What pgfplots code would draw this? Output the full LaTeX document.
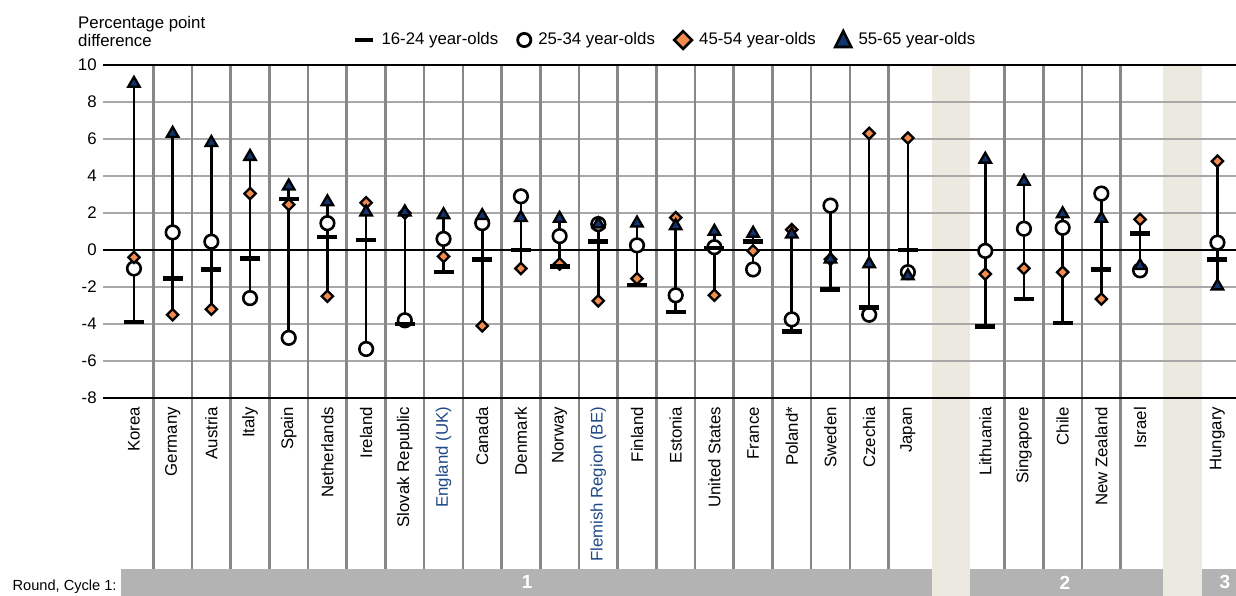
\documentclass[border=0pt]{standalone}
\usepackage{fontspec}
\setmainfont{Liberation Sans}
\usepackage{pgfplots}
\usepackage{pgfplotstable}
\pgfplotsset{compat=1.18}
\usetikzlibrary{calc}

\definecolor{oecdorange}{RGB}{243,139,78}
\definecolor{oecdnavy}{RGB}{18,52,110}
\definecolor{labblue}{RGB}{31,73,135}
\definecolor{gridh}{RGB}{168,168,168}
\definecolor{gridv}{RGB}{135,135,135}
\definecolor{beige}{RGB}{236,234,224}
\definecolor{band}{RGB}{179,179,179}

\newcommand{\fs}{\fontsize{8.4}{10}\selectfont}

% x = slot, a = 16-24, b = 25-34, c = 45-54, d = 55-65 year-olds
\pgfplotstableread{
x   a      b      c      d
0  -3.90  -1.00  -0.40   9.00
1  -1.55   0.95  -3.50   6.30
2  -1.05   0.45  -3.20   5.80
3  -0.45  -2.60   3.05   5.05
4   2.75  -4.75   2.45   3.45
5   0.70   1.45  -2.50   2.60
6   0.55  -5.35   2.55   2.05
7  -4.00  -3.80   2.00   2.05
8  -1.20   0.60  -0.35   1.90
9  -0.50   1.45  -4.10   1.85
10  0.00   2.90  -1.00   1.75
11 -0.90   0.75  -0.75   1.70
12  0.45   1.40  -2.75   1.40
13 -1.90   0.25  -1.55   1.45
14 -3.35  -2.45   1.75   1.30
15  0.10   0.15  -2.45   1.00
16  0.45  -1.05  -0.05   0.90
17 -4.40  -3.75   1.10   0.85
18 -2.15   2.40  -0.50  -0.50
19 -3.10  -3.50   6.30  -0.75
20  0.00  -1.20   6.05  -1.40
22 -4.15  -0.05  -1.30   4.90
23 -2.65   1.15  -1.00   3.70
24 -3.95   1.20  -1.20   1.95
25 -1.05   3.05  -2.65   1.70
26  0.90  -1.10   1.65  -0.85
28 -0.50   0.40   4.80  -1.95
}\agegaps

\begin{document}
\begin{tikzpicture}
\begin{axis}[
  name=ax,
  scale only axis, width=566.5pt, height=166.5pt,
  xmin=-0.8, xmax=28.48, ymin=-8, ymax=10,
  clip=false,
  axis line style={draw=none},
  major tick length=0pt,
  ytick={-8,-6,...,10},
  xtick={0,...,20,22,23,24,25,26,28},
  xticklabels={Korea,Germany,Austria,Italy,Spain,Netherlands,Ireland,Slovak Republic,
    {\color{labblue}England (UK)},Canada,Denmark,Norway,{\color{labblue}Flemish Region (BE)},
    Finland,Estonia,United States,France,Poland*,Sweden,Czechia,Japan,
    Lithuania,Singapore,Chile,New Zealand,Israel,Hungary},
  tick label style={font=\fs},
  /pgf/number format/assume math mode=true,
  xticklabel style={rotate=90, anchor=east, inner sep=0pt},
  xticklabel shift=4.3pt,
  yticklabel style={inner sep=0pt},
  yticklabel shift=3pt,
  legend columns=4,
  legend cell align=left,
  legend style={at={(0.497,1.075)}, anchor=center, draw=none, fill=none,
    font=\fs, inner sep=0pt,
    /tikz/every even column/.append style={column sep=7pt},
    /tikz/every odd column/.append style={column sep=1pt}},
]
% round gaps and bottom band
\fill[beige] (axis cs:20.62,10) rectangle (axis cs:21.60,-18.8);
\fill[beige] (axis cs:26.59,10) rectangle (axis cs:27.60,-18.8);
\fill[band] (axis cs:-0.34,-17.24) rectangle (axis cs:20.62,-18.8);
\fill[band] (axis cs:21.60,-17.24) rectangle (axis cs:26.59,-18.8);
\fill[band] (axis cs:27.60,-17.24) rectangle (axis cs:28.48,-18.8);
\node[font=\bfseries\fontsize{9.5}{10}\selectfont, text=white] at (axis cs:10.16,-17.97) {1};
\node[font=\bfseries\fontsize{9.5}{10}\selectfont, text=white] at (axis cs:24.06,-17.97) {2};
\node[font=\bfseries\fontsize{9.5}{10}\selectfont, text=white] at (axis cs:28.19,-17.97) {3};
\node[font=\fontsize{7.3}{9}\selectfont, anchor=east, inner sep=0pt] at (axis cs:-0.44,-18.22) {Round, Cycle 1:};
\node[font=\fs, anchor=west, inner sep=0pt] at (axis cs:-1.45,12.2) {Percentage point};
\node[font=\fs, anchor=west, inner sep=0pt] at (axis cs:-1.45,11.3) {difference};
% grid
\pgfplotsinvokeforeach{-6,-4,-2,2,4,6,8}{
  \draw[gridh, line width=1.1pt] (axis cs:-0.8,#1) -- (axis cs:28.48,#1);
}
\pgfplotsinvokeforeach{0.5,1.5,...,19.5,22.5,23.5,24.5,25.5}{
  \draw[gridv, line width=1.3pt] (axis cs:#1,10) -- (axis cs:#1,-17.24);
}
\pgfplotsinvokeforeach{-8,0,10}{
  \draw[black, line width=1pt] (axis cs:-0.8,#1) -- (axis cs:28.48,#1);
}
% legend
\addlegendimage{legend image code/.code={\draw[black, line width=2.3pt] (0pt,0pt) -- (9pt,0pt);}}
\addlegendentry{16-24 year-olds}
\addlegendimage{legend image code/.code={\draw[black, line width=1.4pt, fill=white] (3.9pt,0pt) circle (3.3pt);}}
\addlegendentry{25-34 year-olds}
\addlegendimage{legend image code/.code={\draw[black, line width=1.3pt, fill=oecdorange] (0pt,0pt) -- (4.4pt,4.4pt) -- (8.8pt,0pt) -- (4.4pt,-4.4pt) -- cycle;}}
\addlegendentry{45-54 year-olds}
\addlegendimage{legend image code/.code={\draw[black, line width=1.3pt, fill=oecdnavy] (0pt,-3.5pt) -- (8pt,-3.5pt) -- (4pt,4.5pt) -- cycle;}}
\addlegendentry{55-65 year-olds}
% range lines
\addplot[forget plot, draw=none, mark=none,
  error bars/.cd, y dir=plus, y explicit, error mark=none,
  error bar style={draw=black, line width=1.3pt}]
  table[x=x,
    y expr={min(\thisrow{a},\thisrow{b},\thisrow{c},\thisrow{d})},
    y error plus expr={max(\thisrow{a},\thisrow{b},\thisrow{c},\thisrow{d})-min(\thisrow{a},\thisrow{b},\thisrow{c},\thisrow{d})}]
  {\agegaps};
% 25-34
\addplot[forget plot, only marks, mark=*, mark size=3.4pt,
  mark options={draw=black, fill=white, line width=1.3pt}]
  table[x=x, y=b] {\agegaps};
% 45-54
\addplot[forget plot, only marks, mark=square*, mark size=2pt,
  mark options={rotate=45, draw=black, fill=oecdorange, line width=1.15pt}]
  table[x=x, y=c] {\agegaps};
% 55-65
\addplot[forget plot, only marks, mark=triangle*, mark size=3.3pt,
  mark options={draw=black, fill=oecdnavy, line width=1.15pt}]
  table[x=x, y=d] {\agegaps};
% 16-24
\addplot[forget plot, only marks, mark=-, mark size=5pt,
  mark options={draw=black, line width=2.3pt}]
  table[x=x, y=a] {\agegaps};
\end{axis}
\pgfresetboundingbox
\path[use as bounding box] ($(ax.south west)+(-51.5pt,-99pt)$) rectangle ($(ax.north east)+(0pt,32.5pt)$);
\end{tikzpicture}
\end{document}
